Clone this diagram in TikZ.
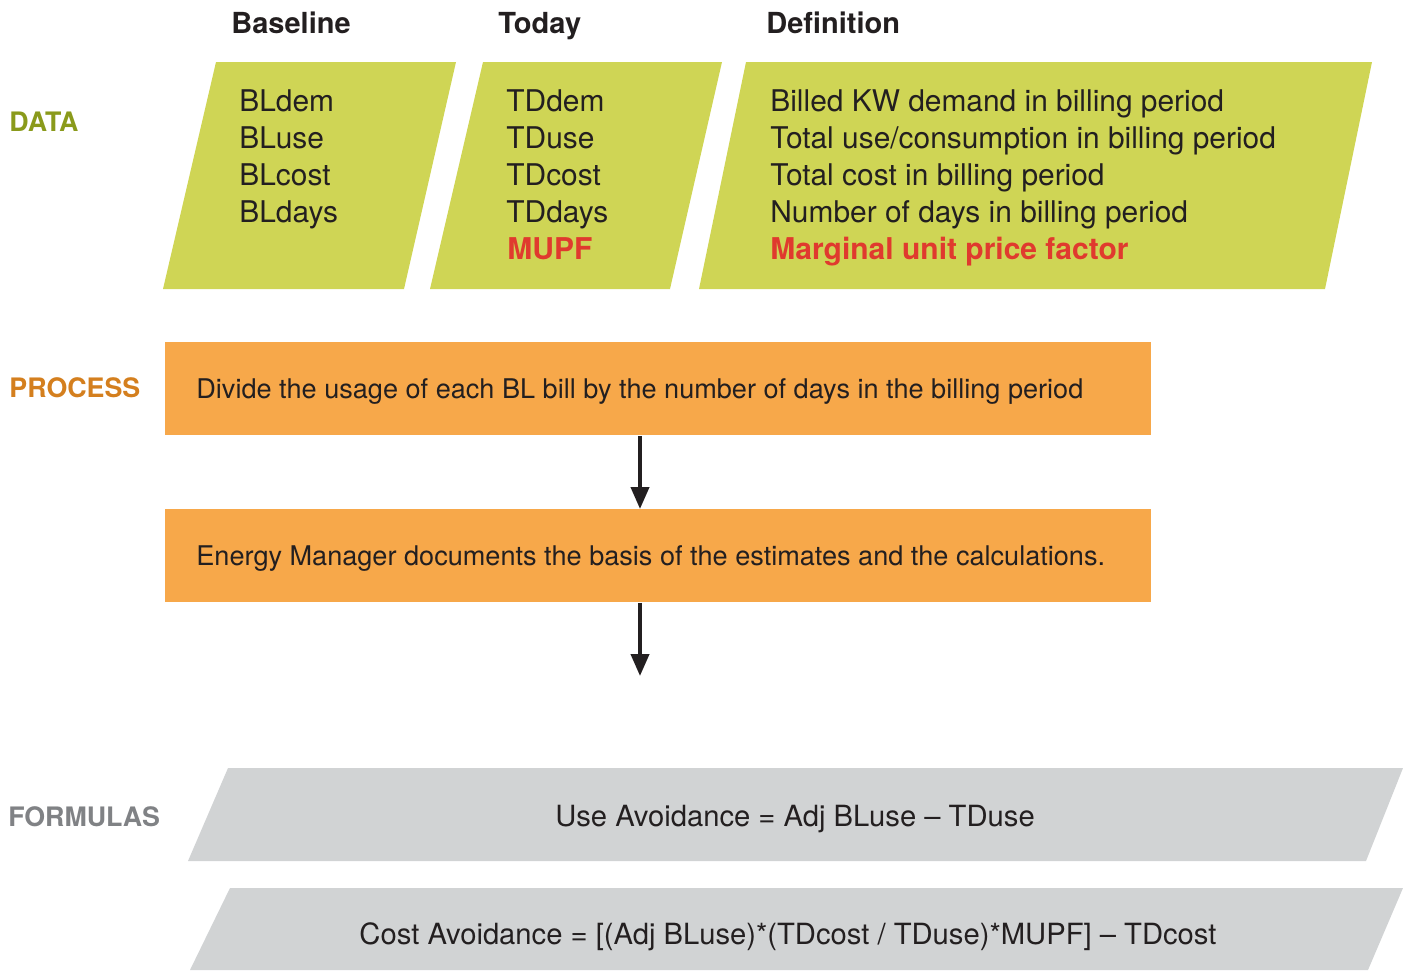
\documentclass[tikz,border=0pt]{standalone}
\usepackage{fontspec}
\setmainfont{TeX Gyre Heros}
\usetikzlibrary{arrows.meta}
\definecolor{dgreen}{RGB}{207,213,85}
\definecolor{dorange}{RGB}{247,168,74}
\definecolor{dgrey}{RGB}{209,211,212}
\definecolor{lblgreen}{RGB}{138,154,27}
\definecolor{lblorange}{RGB}{212,127,30}
\definecolor{lblgrey}{RGB}{128,130,133}
\definecolor{dred}{RGB}{224,58,46}
\definecolor{dtext}{RGB}{35,31,32}
\tikzset{
  datatxt/.style={anchor=base west, inner sep=0pt, text=dtext, font=\fontsize{14.95pt}{18pt}\selectfont},
  redtxt/.style={anchor=base west, inner sep=0pt, text=dred, font=\fontsize{15pt}{18pt}\selectfont\bfseries},
  headtxt/.style={anchor=base west, inner sep=0pt, text=dtext, font=\fontsize{14.5pt}{17pt}\selectfont\bfseries},
  lbltxt/.style={anchor=base west, inner sep=0pt, font=\fontsize{13.4pt}{16pt}\selectfont\bfseries},
  proctxt/.style={anchor=base west, inner sep=0pt, text=dtext, font=\fontsize{13.55pt}{16pt}\selectfont},
  formtxt/.style={anchor=base, inner sep=0pt, text=dtext, font=\fontsize{14.6pt}{17pt}\selectfont},
  procbox/.style={anchor=north west, fill=dorange, draw=none, inner sep=0pt, minimum width=493pt, minimum height=46.5pt},
  flowarrow/.style={draw=dtext, line width=2pt, -{Triangle[length=11pt,width=9pt]}},
}
\begin{document}
\begin{tikzpicture}[x=0.5pt,y=-0.5pt]
\useasboundingbox (0,0) rectangle (1403,970);
% data parallelograms
\fill[dgreen] (216,62) -- (456,62) -- (404,289) -- (163,289) -- cycle;
\fill[dgreen] (483,62) -- (722,62) -- (670,289) -- (430,289) -- cycle;
\fill[dgreen] (746,62) -- (1372,62) -- (1325,289) -- (699,289) -- cycle;
% formula parallelograms
\fill[dgrey] (228,768) -- (1403,768) -- (1366,861) -- (188,861) -- cycle;
\fill[dgrey] (230,888) -- (1403,888) -- (1368,970) -- (190,970) -- cycle;
% headers
\node[headtxt] (hbl) at (231,33) {Baseline};
\node[headtxt] (htd) at (498,33) {Today};
\node[headtxt] (hdef) at (766,33) {Definition};
% labels
\node[lbltxt, text=lblgreen] (ldata) at (9,131) {DATA};
\node[lbltxt, text=lblorange] (lproc) at (9,397) {PROCESS};
\node[lbltxt, text=lblgrey] (lform) at (8,826) {FORMULAS};
% baseline column
\node[datatxt] (bl1) at (239,111) {BLdem};
\node[datatxt] (bl2) at (239,148) {BLuse};
\node[datatxt] (bl3) at (239,185) {BLcost};
\node[datatxt] (bl4) at (239,222) {BLdays};
% today column
\node[datatxt] (td1) at (506,111) {TDdem};
\node[datatxt] (td2) at (506,148) {TDuse};
\node[datatxt] (td3) at (506,185) {TDcost};
\node[datatxt] (td4) at (506,222) {TDdays};
\node[redtxt] (td5) at (507,259) {MUPF};
% definitions
\node[datatxt] (df1) at (770,111) {Billed KW demand in billing period};
\node[datatxt] (df2) at (770,148) {Total use/consumption in billing period};
\node[datatxt] (df3) at (770,185) {Total cost in billing period};
\node[datatxt] (df4) at (770,222) {Number of days in billing period};
\node[redtxt] (df5) at (770,259) {Marginal unit price factor};
% process boxes
\node[procbox] (p1) at (165,342) {};
\node[procbox] (p2) at (165,509) {};
\node[proctxt] (p1t) at (196,398) {Divide the usage of each BL bill by the number of days in the billing period};
\node[proctxt] (p2t) at (196,565) {Energy Manager documents the basis of the estimates and the calculations.};
\coordinate (aend) at (640,676);
\draw[flowarrow] (p1.south -| aend) -- (p2.north -| aend);
\draw[flowarrow] (p2.south -| aend) -- (aend);
% formulas
\node[formtxt] (f1) at (795,826) {Use Avoidance = Adj BLuse – TDuse};
\node[formtxt] (f2) at (788,944) {Cost Avoidance = [(Adj BLuse)*(TDcost / TDuse)*MUPF] – TDcost};
\end{tikzpicture}
\end{document}
